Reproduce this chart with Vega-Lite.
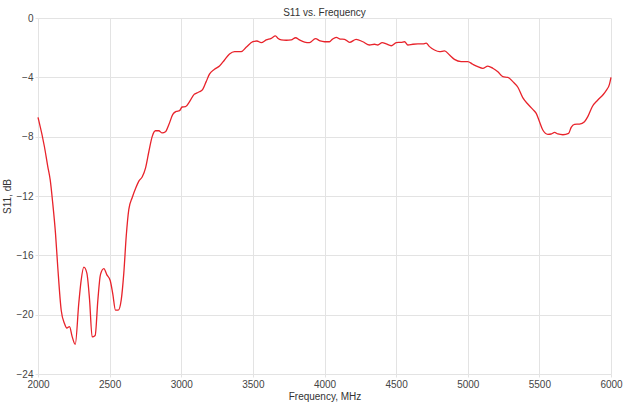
{
  "$schema": "https://vega.github.io/schema/vega-lite/v6.json",
  "width": 573,
  "height": 356,
  "autosize": "none",
  "padding": {"left": 38, "top": 18, "right": 12, "bottom": 30},
  "background": "white",
  "title": {"text": "S11 vs. Frequency", "fontSize": 10, "fontWeight": "normal", "font": "Liberation Sans", "color": "#333", "offset": 4, "dy": 9},
  "config": {
    "view": {"stroke": null},
    "font": "Liberation Sans",
    "axis": {"gridColor": "#e3e3e3", "domain": false, "tickColor": "#e3e3e3", "tickSize": 3, "labelColor": "#444", "labelFontSize": 10, "titleFontSize": 10, "titleFontWeight": "normal", "titleColor": "#333", "labelFlush": false}
  },
  "data": {"values": [
    {"f":2000,"s":-6.7},{"f":2006,"s":-6.93},{"f":2045,"s":-8.68},{"f":2068,"s":-10.0},{"f":2085,"s":-10.9},{"f":2103,"s":-12.5},{"f":2122,"s":-14.5},{"f":2138,"s":-16.8},{"f":2162,"s":-19.7},{"f":2185,"s":-20.6},{"f":2201,"s":-20.9},{"f":2220,"s":-20.8},{"f":2239,"s":-21.5},{"f":2260,"s":-22.0},{"f":2285,"s":-19.2},{"f":2301,"s":-17.7},{"f":2320,"s":-16.8},{"f":2341,"s":-17.2},{"f":2360,"s":-19.0},{"f":2378,"s":-21.5},{"f":2399,"s":-21.4},{"f":2418,"s":-19.0},{"f":2436,"s":-17.3},{"f":2460,"s":-16.9},{"f":2480,"s":-17.3},{"f":2504,"s":-17.7},{"f":2522,"s":-18.6},{"f":2541,"s":-19.7},{"f":2560,"s":-19.7},{"f":2581,"s":-19.0},{"f":2599,"s":-17.2},{"f":2616,"s":-14.7},{"f":2634,"s":-12.9},{"f":2658,"s":-12.1},{"f":2681,"s":-11.5},{"f":2704,"s":-11.0},{"f":2728,"s":-10.7},{"f":2751,"s":-10.1},{"f":2774,"s":-9.0},{"f":2797,"s":-8.0},{"f":2820,"s":-7.6},{"f":2843,"s":-7.6},{"f":2867,"s":-7.75},{"f":2890,"s":-7.67},{"f":2913,"s":-7.2},{"f":2941,"s":-6.5},{"f":2965,"s":-6.3},{"f":2988,"s":-6.25},{"f":3006,"s":-6.0},{"f":3030,"s":-5.98},{"f":3058,"s":-5.64},{"f":3090,"s":-5.15},{"f":3110,"s":-5.05},{"f":3127,"s":-4.97},{"f":3150,"s":-4.81},{"f":3174,"s":-4.29},{"f":3197,"s":-3.78},{"f":3232,"s":-3.46},{"f":3267,"s":-3.24},{"f":3302,"s":-2.83},{"f":3337,"s":-2.43},{"f":3372,"s":-2.27},{"f":3418,"s":-2.27},{"f":3453,"s":-1.98},{"f":3500,"s":-1.6},{"f":3528,"s":-1.55},{"f":3558,"s":-1.66},{"f":3593,"s":-1.48},{"f":3628,"s":-1.37},{"f":3658,"s":-1.21},{"f":3674,"s":-1.37},{"f":3698,"s":-1.48},{"f":3733,"s":-1.5},{"f":3768,"s":-1.48},{"f":3798,"s":-1.33},{"f":3826,"s":-1.48},{"f":3861,"s":-1.62},{"f":3895,"s":-1.66},{"f":3937,"s":-1.39},{"f":3970,"s":-1.55},{"f":4000,"s":-1.6},{"f":4035,"s":-1.6},{"f":4054,"s":-1.44},{"f":4082,"s":-1.3},{"f":4110,"s":-1.42},{"f":4140,"s":-1.44},{"f":4175,"s":-1.64},{"f":4221,"s":-1.44},{"f":4268,"s":-1.6},{"f":4314,"s":-1.82},{"f":4349,"s":-1.77},{"f":4372,"s":-1.82},{"f":4403,"s":-1.66},{"f":4431,"s":-1.75},{"f":4466,"s":-1.87},{"f":4501,"s":-1.66},{"f":4536,"s":-1.64},{"f":4559,"s":-1.6},{"f":4582,"s":-1.82},{"f":4617,"s":-1.77},{"f":4652,"s":-1.75},{"f":4686,"s":-1.75},{"f":4710,"s":-1.7},{"f":4733,"s":-1.93},{"f":4768,"s":-2.16},{"f":4803,"s":-2.27},{"f":4838,"s":-2.22},{"f":4873,"s":-2.5},{"f":4907,"s":-2.79},{"f":4954,"s":-2.94},{"f":5000,"s":-2.94},{"f":5035,"s":-3.12},{"f":5070,"s":-3.28},{"f":5105,"s":-3.39},{"f":5140,"s":-3.24},{"f":5175,"s":-3.39},{"f":5210,"s":-3.62},{"f":5245,"s":-3.96},{"f":5280,"s":-4.0},{"f":5315,"s":-4.29},{"f":5350,"s":-4.67},{"f":5384,"s":-5.37},{"f":5419,"s":-5.8},{"f":5454,"s":-6.16},{"f":5478,"s":-6.43},{"f":5501,"s":-6.99},{"f":5524,"s":-7.55},{"f":5559,"s":-7.84},{"f":5582,"s":-7.82},{"f":5606,"s":-7.71},{"f":5629,"s":-7.82},{"f":5664,"s":-7.87},{"f":5704,"s":-7.78},{"f":5722,"s":-7.37},{"f":5745,"s":-7.17},{"f":5780,"s":-7.15},{"f":5815,"s":-6.99},{"f":5838,"s":-6.65},{"f":5869,"s":-5.98},{"f":5908,"s":-5.53},{"f":5943,"s":-5.19},{"f":5966,"s":-4.9},{"f":5989,"s":-4.47},{"f":6000,"s":-4.0}
  ]},
  "mark": {"type": "line", "color": "#e8232b", "strokeWidth": 1.3, "interpolate": "monotone"},
  "encoding": {
    "x": {"field": "f", "type": "quantitative", "scale": {"domain": [2000, 6000], "nice": false, "zero": false}, "axis": {"values": [2000,2500,3000,3500,4000,4500,5000,5500,6000], "format": "d", "title": "Frequency, MHz", "titlePadding": 2, "labelPadding": 2}},
    "y": {"field": "s", "type": "quantitative", "scale": {"domain": [-24, 0], "nice": false}, "axis": {"values": [-24,-20,-16,-12,-8,-4,0], "title": "S11, dB", "titlePadding": 4, "labelPadding": 2}}
  }
}
